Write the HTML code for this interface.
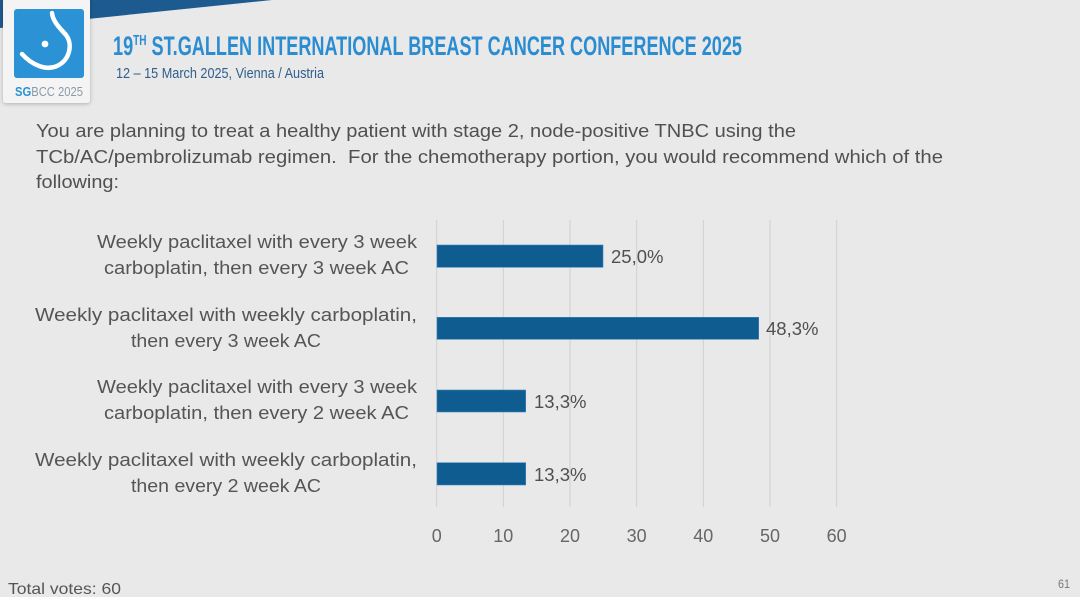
<!DOCTYPE html>
<html>
<head>
<meta charset="utf-8">
<style>
  html,body{margin:0;padding:0;background:#e9e9e9;}
  body{width:1080px;height:597px;overflow:hidden;}
  svg{display:block;}
</style>
</head>
<body>
<svg width="1080" height="597" viewBox="0 0 1080 597" xmlns="http://www.w3.org/2000/svg">
  <defs>
    <filter id="sh" x="-20%" y="-20%" width="140%" height="140%">
      <feGaussianBlur in="SourceAlpha" stdDeviation="2"/>
      <feOffset dx="0" dy="1" result="b"/>
      <feComponentTransfer><feFuncA type="linear" slope="0.25"/></feComponentTransfer>
      <feMerge><feMergeNode/><feMergeNode in="SourceGraphic"/></feMerge>
    </filter>
  </defs>
  <rect width="1080" height="597" fill="#e9e9e9"/>
  <!-- top stripe -->
  <polygon points="0,0 272,0 0,28" fill="#1d5a8f"/>
  <!-- logo card -->
  <rect x="3" y="-2" width="87" height="105" rx="3" fill="#f4f4f4" filter="url(#sh)"/>
  <rect x="14" y="9" width="70" height="69" rx="3" fill="#2a92d5"/>
  <path d="M52,13 C53,22 60,28 66,35 C73,44 70,60 57,66 C46,71 32,65 22,54" fill="none" stroke="#ffffff" stroke-width="4.5" stroke-linecap="round"/>
  <circle cx="45" cy="44" r="3.4" fill="#ffffff"/>
  <text x="15" y="96" font-family="Liberation Sans, sans-serif" font-size="12.5" fill="#8a9aa8" textLength="68" lengthAdjust="spacingAndGlyphs"><tspan font-weight="bold" fill="#2a92d5">SG</tspan>BCC 2025</text>

  <!-- title -->
  <text x="113" y="55" font-family="Liberation Sans Narrow, Liberation Sans, sans-serif" font-weight="bold" font-size="27" fill="#2a8cd1" textLength="629" lengthAdjust="spacingAndGlyphs">19<tspan font-size="15" dy="-10">TH</tspan><tspan dy="10"> ST.GALLEN INTERNATIONAL BREAST CANCER CONFERENCE 2025</tspan></text>
  <text x="116" y="78" font-family="Liberation Sans Narrow, Liberation Sans, sans-serif" font-size="15" fill="#2f5f8c" textLength="208" lengthAdjust="spacingAndGlyphs">12 – 15 March 2025, Vienna / Austria</text>

  <!-- question -->
  <g font-family="Liberation Sans, sans-serif" font-size="18" fill="#505050">
    <text x="36" y="137" textLength="760" lengthAdjust="spacingAndGlyphs">You are planning to treat a healthy patient with stage 2, node-positive TNBC using the</text>
    <text x="36" y="163" textLength="907" lengthAdjust="spacingAndGlyphs">TCb/AC/pembrolizumab regimen.&#160; For the chemotherapy portion, you would recommend which of the</text>
    <text x="36" y="188" textLength="83" lengthAdjust="spacingAndGlyphs">following:</text>
  </g>

  <!-- gridlines -->
  <g stroke="#d0d0d0" stroke-width="1">
    <line x1="436.7" y1="220" x2="436.7" y2="507"/>
    <line x1="503.3" y1="220" x2="503.3" y2="507"/>
    <line x1="570" y1="220" x2="570" y2="507"/>
    <line x1="636.7" y1="220" x2="636.7" y2="507"/>
    <line x1="703.3" y1="220" x2="703.3" y2="507"/>
    <line x1="770" y1="220" x2="770" y2="507"/>
    <line x1="836.7" y1="220" x2="836.7" y2="507"/>
  </g>

  <!-- bars -->
  <g fill="#0f5c91" stroke="#3f86bb" stroke-width="0.6">
    <rect x="437" y="245" width="166" height="22.3"/>
    <rect x="437" y="317.3" width="321.7" height="22"/>
    <rect x="437" y="390" width="88.7" height="22"/>
    <rect x="437" y="462.7" width="88.7" height="22.3"/>
  </g>

  <!-- value labels -->
  <g font-family="Liberation Sans, sans-serif" font-size="18.5" fill="#505050">
    <text x="611" y="263">25,0%</text>
    <text x="766" y="335">48,3%</text>
    <text x="534" y="408">13,3%</text>
    <text x="534" y="481">13,3%</text>
  </g>

  <!-- category labels -->
  <g font-family="Liberation Sans, sans-serif" font-size="18" fill="#555555" text-anchor="middle">
    <text x="257" y="248" textLength="320" lengthAdjust="spacingAndGlyphs">Weekly paclitaxel with every 3 week</text>
    <text x="256.5" y="274" textLength="305" lengthAdjust="spacingAndGlyphs">carboplatin, then every 3 week AC</text>
    <text x="226" y="321" textLength="382" lengthAdjust="spacingAndGlyphs">Weekly paclitaxel with weekly carboplatin,</text>
    <text x="226" y="347" textLength="190" lengthAdjust="spacingAndGlyphs">then every 3 week AC</text>
    <text x="257" y="393" textLength="320" lengthAdjust="spacingAndGlyphs">Weekly paclitaxel with every 3 week</text>
    <text x="256.5" y="419" textLength="305" lengthAdjust="spacingAndGlyphs">carboplatin, then every 2 week AC</text>
    <text x="226" y="466" textLength="382" lengthAdjust="spacingAndGlyphs">Weekly paclitaxel with weekly carboplatin,</text>
    <text x="226" y="492" textLength="190" lengthAdjust="spacingAndGlyphs">then every 2 week AC</text>
  </g>

  <!-- tick labels -->
  <g font-family="Liberation Sans, sans-serif" font-size="18" fill="#666666" text-anchor="middle">
    <text x="436.7" y="542">0</text>
    <text x="503.3" y="542">10</text>
    <text x="570" y="542">20</text>
    <text x="636.7" y="542">30</text>
    <text x="703.3" y="542">40</text>
    <text x="770" y="542">50</text>
    <text x="836.7" y="542">60</text>
  </g>

  <!-- footer -->
  <text x="8" y="594" font-family="Liberation Sans Narrow, Liberation Sans, sans-serif" font-size="16" fill="#555555" textLength="113" lengthAdjust="spacingAndGlyphs">Total votes: 60</text>
  <text x="1058" y="588" font-family="Liberation Sans Narrow, Liberation Sans, sans-serif" font-size="12" fill="#777777" textLength="12" lengthAdjust="spacingAndGlyphs">61</text>
</svg>
</body>
</html>
